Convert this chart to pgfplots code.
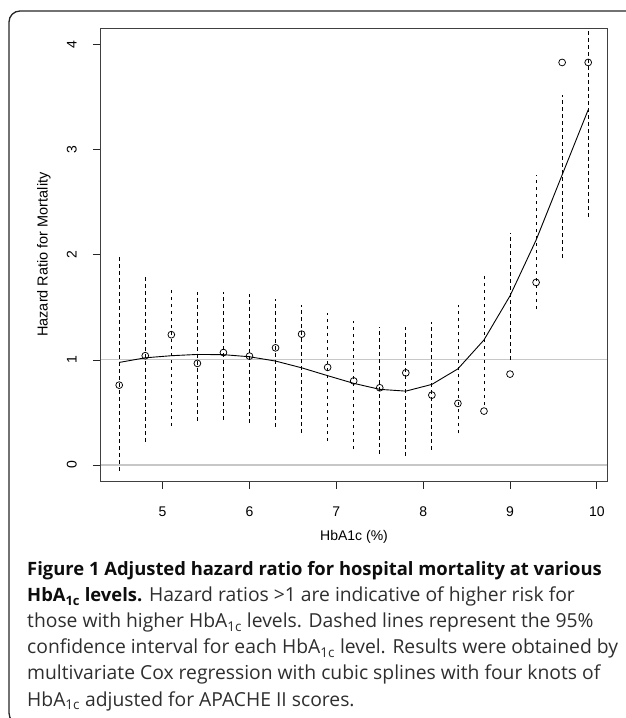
\documentclass[border=0pt]{standalone}
\usepackage{fontspec}
\setmainfont{Liberation Sans}
\newfontfamily\capfont{Open Sans}
\usepackage{pgfplots}
\pgfplotsset{compat=1.18}
\begin{document}
\begin{tikzpicture}[x=1pt,y=1pt]
\useasboundingbox (0,0) rectangle (625,718);
\draw[line width=1.3pt, black!85, rounded corners=11pt] (660,-6) -- (9,-6) -- (9,707) -- (660,707);
\begin{axis}[
  at={(100.8pt,237pt)}, anchor=south west,
  width=506.5pt, height=452.7pt, scale only axis,
  xmin=4.288, xmax=10.12, ymin=-0.152, ymax=4.155,
  xtick={5,6,7,8,9,10}, ytick={0,1,2,3,4},
  tick align=outside, major tick length=8pt,
  xtick pos=bottom, ytick pos=left,
  axis line style={black!75, line width=0.8pt},
  tick style={black!85, line width=0.8pt},
  /pgf/number format/assume math mode=true,
  ticklabel style={font=\fontsize{14}{16}\selectfont},
  xticklabel style={anchor=center, yshift=-23pt},
  yticklabel style={xshift=-21pt, rotate=90, anchor=center},
  xlabel={HbA1c (\%)},
  xlabel style={font=\fontsize{14}{16}\selectfont, at={(axis description cs:0.5,-0.1237)}, anchor=center},
  ylabel={Hazard Ratio for Mortality},
  ylabel style={font=\fontsize{14.5}{16}\selectfont, at={(axis description cs:-0.1125,0.5)}, anchor=center, rotate=0},
  unbounded coords=jump,
]
\addplot[color=black!22, line width=1.1pt] coordinates {(4.288,1) (10.12,1)};
\addplot[color=black!22, line width=1.1pt] coordinates {(4.288,0) (10.12,0)};
% 95% confidence intervals
\addplot[black, line width=0.75pt, dash pattern=on 3.5pt off 3.5pt] table[row sep=\\] {
x y \\
4.5 -0.054 \\ 4.5 2.00 \\ 4.5 nan \\
4.8 0.22 \\ 4.8 1.79 \\ 4.8 nan \\
5.1 0.37 \\ 5.1 1.67 \\ 5.1 nan \\
5.4 0.42 \\ 5.4 1.645 \\ 5.4 nan \\
5.7 0.43 \\ 5.7 1.645 \\ 5.7 nan \\
6.0 0.40 \\ 6.0 1.625 \\ 6.0 nan \\
6.3 0.364 \\ 6.3 1.58 \\ 6.3 nan \\
6.6 0.307 \\ 6.6 1.52 \\ 6.6 nan \\
6.9 0.228 \\ 6.9 1.45 \\ 6.9 nan \\
7.2 0.152 \\ 7.2 1.37 \\ 7.2 nan \\
7.5 0.105 \\ 7.5 1.315 \\ 7.5 nan \\
7.8 0.086 \\ 7.8 1.31 \\ 7.8 nan \\
8.1 0.143 \\ 8.1 1.36 \\ 8.1 nan \\
8.4 0.30 \\ 8.4 1.52 \\ 8.4 nan \\
8.7 0.57 \\ 8.7 1.80 \\ 8.7 nan \\
9.0 1.00 \\ 9.0 2.21 \\ 9.0 nan \\
9.3 1.483 \\ 9.3 2.76 \\ 9.3 nan \\
9.6 1.97 \\ 9.6 3.525 \\ 9.6 nan \\
9.9 2.36 \\ 9.9 4.30 \\
};
% spline fit
\addplot[black, line width=0.9pt] coordinates {
(4.5,0.976) (4.8,1.02) (5.1,1.04) (5.4,1.052) (5.7,1.05) (6.0,1.03)
(6.3,0.989) (6.6,0.925) (6.9,0.85) (7.2,0.777) (7.5,0.72) (7.8,0.703)
(8.1,0.767) (8.4,0.915) (8.7,1.19) (9.0,1.61) (9.3,2.14) (9.6,2.76) (9.9,3.38)
};
% point estimates
\addplot[only marks, mark=o, mark size=3.4pt, mark options={black, line width=0.75pt}] coordinates {
(4.5,0.76) (4.8,1.04) (5.1,1.24) (5.4,0.967) (5.7,1.07) (6.0,1.036)
(6.3,1.115) (6.6,1.245) (6.9,0.929) (7.2,0.80) (7.5,0.735) (7.8,0.877)
(8.1,0.665) (8.4,0.586) (8.7,0.513) (9.0,0.865) (9.3,1.737) (9.6,3.83) (9.9,3.83)
};
\end{axis}
\begin{scope}[capfont/.style={anchor=base west, inner sep=0pt, font=\capfont\fontsize{19.3}{22}\selectfont, text=black!82}]
\node[capfont, text=black!95, font=\capfont\fontsize{18.4}{22}\selectfont] at (27,142) {\bfseries Figure 1 Adjusted hazard ratio for hospital mortality at various};
\node[capfont] at (27,116) {{\fontsize{18.4}{22}\selectfont\bfseries\color{black!95}HbA\textsubscript{1c} levels.} Hazard ratios >1 are indicative of higher risk for};
\node[capfont] at (27,90) {those with higher HbA\textsubscript{1c} levels. Dashed lines represent the 95\%};
\node[capfont] at (27,64) {confidence interval for each HbA\textsubscript{1c} level. Results were obtained by};
\node[capfont] at (27,38) {multivariate Cox regression with cubic splines with four knots of};
\node[capfont] at (27,12) {HbA\textsubscript{1c} adjusted for APACHE II scores.};
\end{scope}
\end{tikzpicture}
\end{document}
